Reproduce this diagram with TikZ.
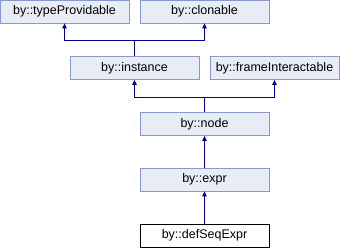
\documentclass[tikz,border=0pt]{standalone}
\usepackage{fontspec}
\setmainfont{Liberation Sans}
\usepackage{xcolor}
\usepackage{tikz}
\usetikzlibrary{arrows.meta,positioning}

\definecolor{boxfill}{RGB}{232,236,245}
\definecolor{boxline}{RGB}{132,154,206}
\definecolor{edgeblue}{RGB}{0,0,140}

\begin{document}
\begin{tikzpicture}[
  x=1pt, y=-1pt,
  classbox/.style={rectangle, draw=boxline, fill=boxfill, line width=0.8pt, font=\fontsize{12.5}{14}\selectfont, minimum width=129pt, minimum height=23pt, inner sep=0pt},
  mainbox/.style={classbox, draw=black, fill=white},
  inh/.style={draw=edgeblue, line width=0.9pt, -{Triangle[length=5pt,width=4.5pt]}}
]
  \useasboundingbox (0,0) rectangle (340,248);
  \def\lx{64.5} \def\mx{134.5} \def\cx{204.5} \def\rx{274.5}
  \node[classbox] (typeProv) at (\lx,11.5) {by::typeProvidable};
  \node[classbox] (clonable) at (\cx,11.5) {by::clonable};
  \node[classbox] (instance) at (\mx,68) {by::instance};
  \node[classbox] (frameInt) at (\rx,68) {by::frameInteractable};
  \node[classbox] (node) at (\cx,124) {by::node};
  \node[classbox] (expr) at (\cx,179.5) {by::expr};
  \node[mainbox] (defSeq) at (\cx,235.5) {by::defSeqExpr};

  \coordinate (joinA) at (\mx,40);
  \coordinate (joinB) at (\cx,97);

  \draw[draw=edgeblue, line width=0.9pt] (instance.north) -- (joinA);
  \draw[inh] (joinA) -| (typeProv.south);
  \draw[inh] (joinA) -| (clonable.south);
  \draw[draw=edgeblue, line width=0.9pt] (node.north) -- (joinB);
  \draw[inh] (joinB) -| (instance.south);
  \draw[inh] (joinB) -| (frameInt.south);
  \draw[inh] (expr.north) -- (node.south);
  \draw[inh] (defSeq.north) -- (expr.south);
\end{tikzpicture}
\end{document}
